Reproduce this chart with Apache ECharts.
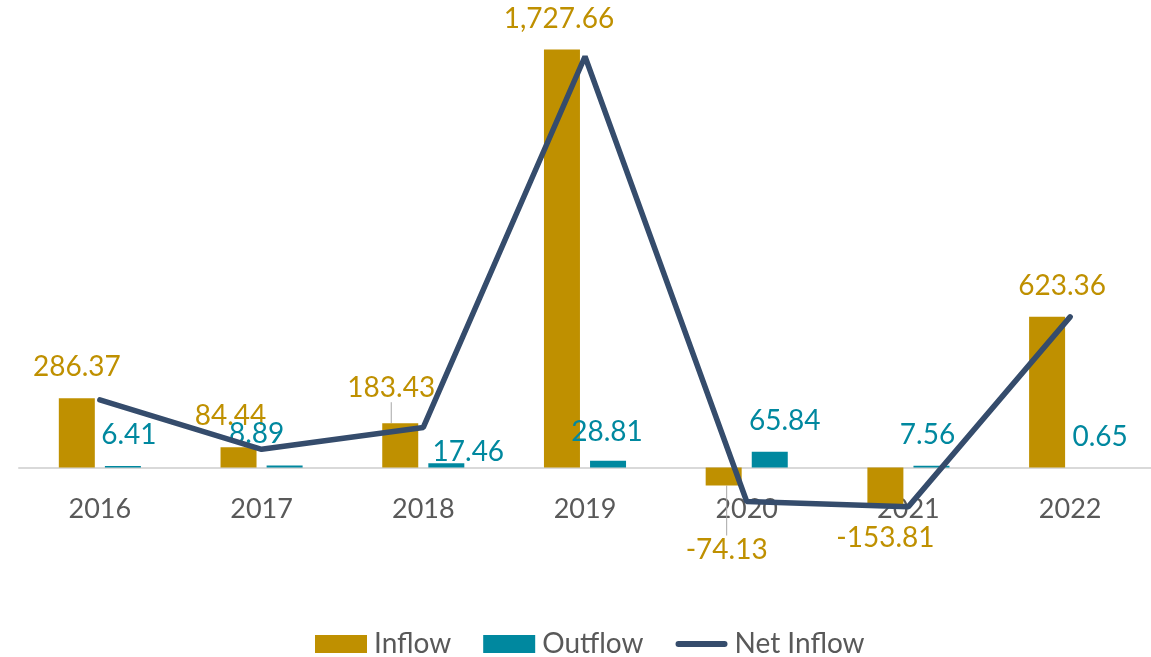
<!DOCTYPE html>
<html lang="en">
<head>
    <meta charset="UTF-8">
    <title>Inflow / Outflow</title>
    <script src="https://cdn.jsdelivr.net/npm/echarts@6/dist/echarts.min.js"></script>
    <style>
        html, body { margin: 0; padding: 0; background: #fff; }
        #chart { width: 1151px; height: 657px; }
    </style>
</head>
<body>
<div id="chart"></div>
<script type="text/javascript">
    var years = ['2016', '2017', '2018', '2019', '2020', '2021', '2022'];
    var inflow = [286.37, 84.44, 183.43, 1727.66, -74.13, -153.81, 623.36];
    var outflow = [6.41, 8.89, 17.46, 28.81, 65.84, 7.56, 0.65];
    var netInflow = [279.96, 75.55, 165.97, 1698.85, -139.97, -161.37, 622.71];

    // label nudges (Excel moved some of them by hand)
    var inflowShift = [[0, 0], [-8, 0], [-9, -4], [-3, 0], [3, 33], [0, 2], [15, 0]];
    var outflowShift = [[6, 0], [-28, 0], [22, 20], [-1, 2], [15, 0], [-4, 0], [7, 1]];

    var font = 'Lato, "Open Sans", sans-serif';
    var gold = '#BF9000';
    var teal = '#00889F';
    var navy = '#354C6C';

    function fmt(v) {
        return v.toLocaleString('en-US', {minimumFractionDigits: 2, maximumFractionDigits: 2});
    }

    var inflowData = inflow.map(function (v, i) {
        var item = {value: v};
        if (v < 0) {
            item.label = {position: 'bottom'};
        }
        if (i == 2 || i == 4) {
            item.labelLine = {show: true};
        }
        return item;
    });

    var chart = echarts.init(document.getElementById('chart'));
    var option = {
        animation: false,
        textStyle: {fontFamily: font},
        grid: {
            left: 19,
            width: 1134,
            top: 32,
            height: 484
        },
        legend: {
            bottom: -6,
            left: 310,
            itemWidth: 52,
            itemHeight: 18,
            itemGap: 32,
            data: [
                {name: 'Inflow', icon: 'rect'},
                {name: 'Outflow', icon: 'rect'},
                {name: 'Net Inflow', icon: 'path://M3,0 L49,0 A3,3 0 0 1 49,6 L3,6 A3,3 0 0 1 3,0 Z', itemStyle: {color: navy}}
            ],
            textStyle: {color: '#595959', fontSize: 28, fontFamily: font, padding: [0, 0, 0, 2]}
        },
        xAxis: {
            type: 'category',
            data: years,
            offset: -48,
            axisLine: {onZero: false, lineStyle: {color: '#D9D9D9', width: 2}},
            axisTick: {show: false},
            axisLabel: {color: '#595959', fontSize: 27, margin: 28, fontFamily: font}
        },
        yAxis: {
            type: 'value',
            min: -200,
            max: 1800,
            show: false,
            splitLine: {show: false}
        },
        series: [
            {
                name: 'Inflow',
                type: 'bar',
                data: inflowData,
                barWidth: 36,
                barGap: '28%',
                itemStyle: {color: gold},
                label: {
                    show: true,
                    position: 'top',
                    distance: 17,
                    color: gold,
                    fontSize: 28,
                    fontFamily: font,
                    formatter: function (p) {
                        return fmt(p.value);
                    }
                },
                labelLine: {lineStyle: {color: '#A6A6A6', width: 1}},
                labelLayout: function (p) {
                    var s = inflowShift[p.dataIndex];
                    return {dx: s[0], dy: s[1]};
                }
            },
            {
                name: 'Outflow',
                type: 'bar',
                data: outflow,
                barWidth: 36,
                itemStyle: {color: teal},
                label: {
                    show: true,
                    position: 'top',
                    distance: 17,
                    color: teal,
                    fontSize: 28,
                    fontFamily: font,
                    formatter: function (p) {
                        return fmt(p.value);
                    }
                },
                labelLayout: function (p) {
                    var s = outflowShift[p.dataIndex];
                    return {dx: s[0], dy: s[1]};
                }
            },
            {
                name: 'Net Inflow',
                type: 'line',
                data: netInflow,
                symbol: 'none',
                z: 5,
                lineStyle: {color: navy, width: 5.5, cap: 'round'},
                itemStyle: {color: navy}
            }
        ]
    };
    chart.setOption(option);
    window.addEventListener('resize', function () {
        chart.resize();
    });
</script>
</body>
</html>
